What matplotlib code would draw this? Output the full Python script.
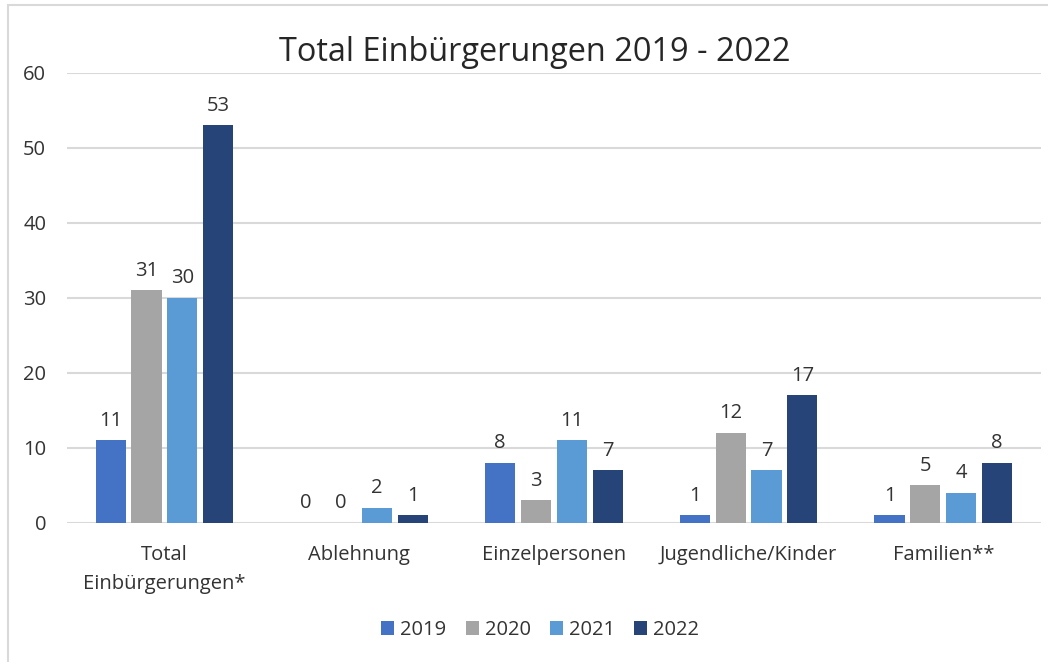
import matplotlib.pyplot as plt
from matplotlib.patches import Rectangle
import numpy as np

plt.rcParams['font.family'] = ['Open Sans', 'DejaVu Sans']

categories = ['Total\nEinbürgerungen*', 'Ablehnung', 'Einzelpersonen',
              'Jugendliche/Kinder', 'Familien**']
years = ['2019', '2020', '2021', '2022']
v2019 = [11, 0, 8, 1, 1]
v2020 = [31, 0, 3, 12, 5]
v2021 = [30, 2, 11, 7, 4]
v2022 = [53, 1, 7, 17, 8]
series = [v2019, v2020, v2021, v2022]
colors = ['#4472C4', '#A5A5A5', '#5B9BD5', '#264478']

text_color = '#333333'

fig = plt.figure(figsize=(10.48, 6.62), dpi=100)
ax = fig.add_axes([0.064, 0.21, 0.929, 0.68])

# light frame around the chart area (left and top edges visible)
fig.add_artist(Rectangle((8 / 1048, -0.1), 1.2, 1 - 5 / 662 + 0.1,
                         transform=fig.transFigure, fill=False,
                         edgecolor='#D9D9D9', linewidth=1.5))

x = np.arange(len(categories))
width = 0.155
step = 0.184
for i, (vals, year, col) in enumerate(zip(series, years, colors)):
    pos = x + (i - 1.5) * step
    bars = ax.bar(pos, vals, width, color=col, label=year, zorder=3)
    for b, v in zip(bars, vals):
        ax.annotate(str(v), (b.get_x() + b.get_width() / 2, v),
                    xytext=(0, 7), textcoords='offset points',
                    ha='center', va='bottom', fontsize=14.5, color=text_color)

ax.set_xlim(-0.5, len(categories) - 0.5)
ax.set_ylim(0, 60)
ax.set_yticks(range(0, 61, 10))
ax.set_xticks(x)
ax.set_xticklabels(categories, fontsize=14.5, color=text_color, linespacing=1.6)
ax.tick_params(axis='y', labelsize=14.5, labelcolor=text_color, length=0, pad=15)
ax.tick_params(axis='x', length=0, pad=16)
ax.grid(axis='y', color='#D9D9D9', linewidth=1.5, zorder=0)
for s in ax.spines.values():
    s.set_visible(False)

fig.text(0.51, 0.92, 'Total Einbürgerungen 2019 - 2022', fontsize=23.4,
         color='#262626', ha='center', va='center')

ax.legend(loc='center', bbox_to_anchor=(0.486, -0.238), ncol=4,
          frameon=False, fontsize=14.5, handlelength=0.65, handleheight=0.65,
          handletextpad=0.3, columnspacing=0.95, labelcolor=text_color)

fig.savefig('out.png', dpi=100, facecolor='white')
